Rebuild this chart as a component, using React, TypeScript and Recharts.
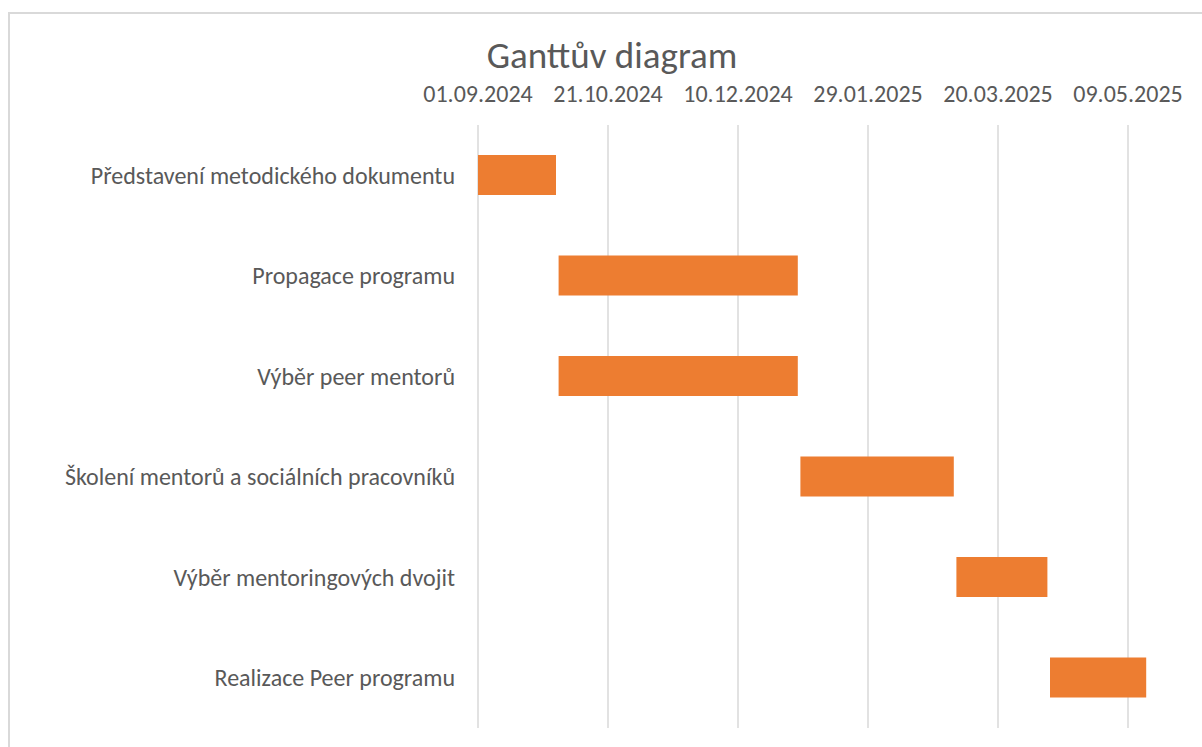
import React from 'react';
import { BarChart, Bar, XAxis, YAxis, CartesianGrid } from 'recharts';

const tasks = [
  'Představení metodického dokumentu',
  'Propagace programu',
  'Výběr peer mentorů',
  'Školení mentorů a sociálních pracovníků',
  'Výběr mentoringových dvojit',
  'Realizace Peer programu',
];
const startDates = ['2024-09-01', '2024-10-02', '2024-10-02', '2025-01-03', '2025-03-04', '2025-04-09'];
const durations = [30, 92, 92, 59, 35, 37];
const tickDays = [0, 50, 100, 150, 200, 250];
const axisStart = '2024-09-01';
const title = 'Ganttův diagram';

const DAY = 86400000;
const base = Date.parse(axisStart + 'T00:00:00Z');
const data = tasks.map((name, i) => ({
  name,
  offset: (Date.parse(startDates[i] + 'T00:00:00Z') - base) / DAY,
  duration: durations[i],
}));

const fmt = (v: number) => {
  const d = new Date(base + v * DAY);
  const dd = String(d.getUTCDate()).padStart(2, '0');
  const mm = String(d.getUTCMonth() + 1).padStart(2, '0');
  return `${dd}.${mm}.${d.getUTCFullYear()}`;
};

const FONT = 'Carlito, Lato, sans-serif';

export default function App() {
  return (
    <div style={{ position: 'absolute', left: 0, top: 0, width: 1202, height: 747, background: '#fff', overflow: 'hidden', fontFamily: FONT }}>
      <div style={{ position: 'absolute', left: 8, top: 12, width: 1210, height: 760, border: '2px solid #d9d9d9', boxSizing: 'border-box' }} />
      <div style={{ position: 'absolute', left: 0, top: 34, width: 1224, textAlign: 'center', fontSize: 37, color: '#595959', lineHeight: '44px' }}>{title}</div>
      <div style={{ position: 'absolute', left: 0, top: 0 }}>
        <BarChart
          width={1202}
          height={747}
          data={data}
          layout="vertical"
          margin={{ top: 80, right: 22, bottom: 19, left: 0 }}
          barSize={40}
        >
          <CartesianGrid horizontal={false} stroke="#d9d9d9" strokeWidth={1.5} verticalValues={tickDays} />
          <XAxis
            type="number"
            orientation="top"
            domain={[0, 270]}
            ticks={tickDays}
            tickFormatter={fmt}
            height={45}
            axisLine={false}
            tickLine={false}
            tickSize={0}
            tickMargin={23}
            tick={{ fill: '#595959', fontSize: 24, fontFamily: FONT }}
            allowDataOverflow
          />
          <YAxis
            type="category"
            dataKey="name"
            width={478}
            axisLine={false}
            tickLine={false}
            tickSize={0}
            tickMargin={23}
            tick={{ fill: '#595959', fontSize: 24, fontFamily: FONT }}
            interval={0}
          />
          <Bar dataKey="offset" stackId="g" fill="transparent" isAnimationActive={false} />
          <Bar dataKey="duration" stackId="g" fill="#ED7D31" isAnimationActive={false} />
        </BarChart>
      </div>
    </div>
  );
}
